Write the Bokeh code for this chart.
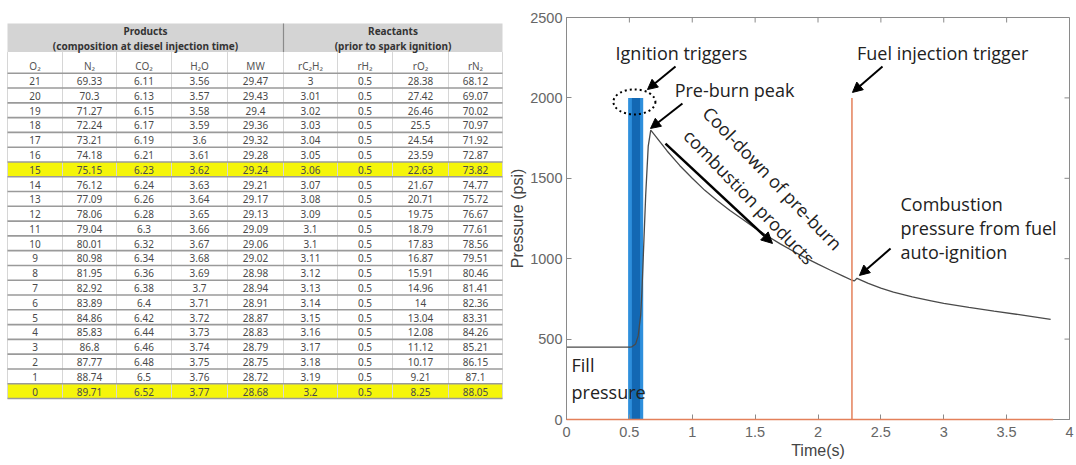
from bokeh.plotting import figure
from bokeh.layouts import row
from bokeh.models import (Range1d, Label, Arrow, NormalHead, FixedTicker,
                          PrintfTickFormatter)
from bokeh.embed import file_html
from bokeh.resources import INLINE
from bokeh.core.properties import value

# ---------------- table data ----------------
group_headers = ["Products", "Reactants"]
group_subtitles = ["(composition at diesel injection time)", "(prior to spark ignition)"]
col_headers = ["O₂", "N₂", "CO₂", "H₂O", "MW", "rC₂H₂", "rH₂", "rO₂", "rN₂"]
O2 = [21, 20, 19, 18, 17, 16, 15, 14, 13, 12, 11, 10, 9, 8, 7, 6, 5, 4, 3, 2, 1, 0]
N2 = [69.33, 70.3, 71.27, 72.24, 73.21, 74.18, 75.15, 76.12, 77.09, 78.06, 79.04, 80.01,
      80.98, 81.95, 82.92, 83.89, 84.86, 85.83, 86.8, 87.77, 88.74, 89.71]
CO2 = [6.11, 6.13, 6.15, 6.17, 6.19, 6.21, 6.23, 6.24, 6.26, 6.28, 6.3, 6.32, 6.34, 6.36,
       6.38, 6.4, 6.42, 6.44, 6.46, 6.48, 6.5, 6.52]
H2O = [3.56, 3.57, 3.58, 3.59, 3.6, 3.61, 3.62, 3.63, 3.64, 3.65, 3.66, 3.67, 3.68, 3.69,
       3.7, 3.71, 3.72, 3.73, 3.74, 3.75, 3.76, 3.77]
MW = [29.47, 29.43, 29.4, 29.36, 29.32, 29.28, 29.24, 29.21, 29.17, 29.13, 29.09, 29.06,
      29.02, 28.98, 28.94, 28.91, 28.87, 28.83, 28.79, 28.75, 28.72, 28.68]
rC2H2 = [3, 3.01, 3.02, 3.03, 3.04, 3.05, 3.06, 3.07, 3.08, 3.09, 3.1, 3.1, 3.11, 3.12,
         3.13, 3.14, 3.15, 3.16, 3.17, 3.18, 3.19, 3.2]
rH2 = [0.5, 0.5, 0.5, 0.5, 0.5, 0.5, 0.5, 0.5, 0.5, 0.5, 0.5, 0.5, 0.5, 0.5, 0.5, 0.5,
       0.5, 0.5, 0.5, 0.5, 0.5, 0.5]
rO2 = [28.38, 27.42, 26.46, 25.5, 24.54, 23.59, 22.63, 21.67, 20.71, 19.75, 18.79, 17.83,
       16.87, 15.91, 14.96, 14, 13.04, 12.08, 11.12, 10.17, 9.21, 8.25]
rN2 = [68.12, 69.07, 70.02, 70.97, 71.92, 72.87, 73.82, 74.77, 75.72, 76.67, 77.61, 78.56,
       79.51, 80.46, 81.41, 82.36, 83.31, 84.26, 85.21, 86.15, 87.1, 88.05]
highlight_O2 = [15, 0]

# ---------------- chart data ----------------
time_s = [0, 0.5, 0.52, 0.55, 0.57, 0.59, 0.6, 0.61, 0.63, 0.65, 0.67, 0.7, 0.75, 0.8,
          0.9, 1.0, 1.1, 1.2, 1.3, 1.4, 1.5, 1.6, 1.7, 1.8, 1.9, 2.0, 2.1, 2.2, 2.27,
          2.29, 2.31, 2.4, 2.5, 2.6, 2.75, 2.9, 3.0, 3.2, 3.4, 3.6, 3.85]
pressure_psi = [450, 450, 452, 470, 520, 650, 800, 1000, 1400, 1700, 1800, 1770, 1720,
                1670, 1580, 1500, 1425, 1360, 1300, 1245, 1190, 1140, 1092, 1048, 1005,
                966, 928, 892, 866, 862, 878, 847, 817, 792, 762, 738, 722, 697, 674, 652,
                622]
ign_outer = [0.49, 0.61]
ign_inner = [0.52, 0.585]
ign_level = 2000
fuel_time = [0, 2.27, 2.27, 2.27, 3.87]
fuel_signal = [0, 0, 2000, 0, 0]
x_ticks = [0, 0.5, 1, 1.5, 2, 2.5, 3, 3.5, 4]
y_ticks = [0, 500, 1000, 1500, 2000, 2500]

# ================= TABLE =================
W_T = 505
tf = figure(width=W_T, height=465, x_range=Range1d(0, W_T), y_range=Range1d(465, 0),
            output_backend="svg", toolbar_location=None, min_border=0)
tf.axis.visible = False
tf.grid.visible = False
tf.outline_line_color = None
tf.background_fill_color = "white"

edges = [7, 62, 116, 171, 227, 283, 337, 392, 448, 502]
centers = [(edges[i] + edges[i + 1]) / 2 for i in range(9)]
head_top, head_bot, colhead_bot = 7, 40, 64.5
rh = 17.1
nrows = len(O2)
TFONT = value("Noto Sans")

# header band
tf.quad(left=[edges[0]], right=[edges[-1]], top=[head_top], bottom=[head_bot],
        fill_color="#d4d4d4", line_color=None)
tf.segment(x0=[edges[5]], y0=[head_top], x1=[edges[5]], y1=[head_bot],
           line_color="#8a8a8a", line_width=1.2)
gx = [(edges[0] + edges[5]) / 2, (edges[5] + edges[9]) / 2]
tf.text(x=gx, y=[16, 16], text=group_headers, text_align="center", text_baseline="middle",
        text_font=TFONT, text_font_size="10px", text_font_style="bold",
        text_color="#333333")
tf.text(x=gx, y=[32.5, 32.5], text=group_subtitles, text_align="center",
        text_baseline="middle", text_font=TFONT, text_font_size="10px",
        text_font_style="bold", text_color="#333333")

# highlighted rows
hl_top = [colhead_bot + O2.index(v) * rh for v in highlight_O2]
tf.quad(left=[edges[0]] * len(hl_top), right=[edges[-1]] * len(hl_top), top=hl_top,
        bottom=[t + rh for t in hl_top], fill_color="#f5f50a", line_color=None)

# vertical lines
tf.segment(x0=edges, y0=[head_bot] * len(edges), x1=edges,
           y1=[colhead_bot + nrows * rh] * len(edges), line_color="#d6d6d6", line_width=1)
# horizontal lines
hy = [colhead_bot + i * rh for i in range(nrows + 1)]
tf.segment(x0=[edges[0]] * len(hy), y0=hy, x1=[edges[-1]] * len(hy), y1=hy,
           line_color="#9a9a9a", line_width=1.6)

# column headers
tf.text(x=centers, y=[56] * 9, text=col_headers, text_align="center",
        text_baseline="middle", text_font=TFONT, text_font_size="10px",
        text_color="#555555")

cols = [O2, N2, CO2, H2O, MW, rC2H2, rH2, rO2, rN2]
xs, ys, ts = [], [], []
for ci, col in enumerate(cols):
    for ri, v in enumerate(col):
        xs.append(centers[ci])
        ys.append(colhead_bot + ri * rh + rh / 2 + 0.5)
        ts.append(f"{v:g}")
tf.text(x=xs, y=ys, text=ts, text_align="center", text_baseline="middle",
        text_font=TFONT, text_font_size="10px", text_color="#4a4a4a")

# ================= CHART =================
p = figure(width=1076 - W_T, height=465, x_range=Range1d(0, 4), y_range=Range1d(0, 2500),
           output_backend="svg", toolbar_location=None,
           min_border_left=61, min_border_right=7, min_border_top=17, min_border_bottom=46)
p.grid.visible = False
p.outline_line_color = "#8a8a8a"
p.background_fill_color = "white"

for ax in [p.xaxis[0], p.yaxis[0]]:
    ax.axis_line_color = "#8a8a8a"
    ax.major_tick_line_color = "#8a8a8a"
    ax.major_tick_in = 5
    ax.major_tick_out = 0
    ax.minor_tick_line_color = None
    ax.major_label_text_font = "Liberation Sans"
    ax.major_label_text_font_size = "14.5px"
    ax.major_label_text_color = "#666666"
    ax.axis_label_text_font = "Liberation Sans"
    ax.axis_label_text_font_size = "16px"
    ax.axis_label_text_font_style = "normal"
    ax.axis_label_text_color = "#444444"

p.xaxis[0].ticker = FixedTicker(ticks=x_ticks)
p.yaxis[0].ticker = FixedTicker(ticks=y_ticks)
p.xaxis[0].formatter = PrintfTickFormatter(format="%g")
p.yaxis[0].formatter = PrintfTickFormatter(format="%g")
p.xaxis[0].axis_label = "Time(s)"
p.yaxis[0].axis_label = "Pressure (psi)"
p.xaxis[0].major_label_standoff = 7
p.xaxis[0].axis_label_standoff = 2
p.yaxis[0].major_label_standoff = 4
p.yaxis[0].axis_label_standoff = 1

# inward ticks on top and right frame edges
p.ray(x=x_ticks, y=[2500] * len(x_ticks), length=5, length_units="screen", angle=-90,
      angle_units="deg", line_color="#8a8a8a", line_width=1)
p.ray(x=[4] * len(y_ticks), y=y_ticks, length=5, length_units="screen", angle=180,
      angle_units="deg", line_color="#8a8a8a", line_width=1)

# ignition trigger (blue)
p.quad(left=[ign_outer[0]], right=[ign_outer[1]], bottom=[0], top=[ign_level],
       fill_color="#2e8fdc", line_color=None)
p.quad(left=[ign_inner[0]], right=[ign_inner[1]], bottom=[0], top=[ign_level],
       fill_color="#1368b3", line_color=None)

# fuel injection trigger (orange)
fr = p.line(fuel_time, fuel_signal, line_color="#e4805a", line_width=1.5)
fr.level = "overlay"

# pressure trace
p.line(time_s, pressure_psi, line_color="#4a4a4a", line_width=1.3)

# dotted ellipse around ignition triggers
p.ellipse(x=[0.54], y=[1975], width=42, height=25, width_units="screen",
          height_units="screen", fill_alpha=0, line_color="black", line_width=2,
          line_dash="2 3")

FONT = "Open Sans"
FS = "18px"
TC = "#222222"


def lab(x, y, text, angle=0, align="left"):
    p.add_layout(Label(x=x, y=y, text=text, text_font=FONT, text_font_size=FS,
                       text_color=TC, text_baseline="middle", text_align=align,
                       angle=angle, angle_units="deg"))


def arr(x0, y0, x1, y1, w=2, size=10):
    p.add_layout(Arrow(x_start=x0, y_start=y0, x_end=x1, y_end=y1, line_width=w,
                       line_color="black",
                       end=NormalHead(size=size, fill_color="black", line_color="black")))


lab(0.39, 2282, "Ignition triggers")
arr(0.867, 2195, 0.644, 2052)
lab(0.86, 2052, "Pre-burn peak")
arr(0.922, 1965, 0.668, 1810)
lab(2.31, 2282, "Fuel injection trigger")
arr(2.513, 2195, 2.274, 2034)
lab(2.656, 1343, "Combustion")
lab(2.656, 1194, "pressure from fuel")
lab(2.656, 1039, "auto-ignition")
arr(2.577, 1063, 2.33, 896)
lab(0.04, 336, "Fill")
lab(0.04, 168, "pressure")
lab(1.64, 1500, "Cool-down of pre-burn", angle=-46, align="center")
lab(1.455, 1385, "combustion products", angle=-46, align="center")
arr(0.787, 1716, 1.638, 1095, w=2.5, size=11)

layout = row(tf, p)
open("out.html", "w").write(file_html(layout, INLINE))
